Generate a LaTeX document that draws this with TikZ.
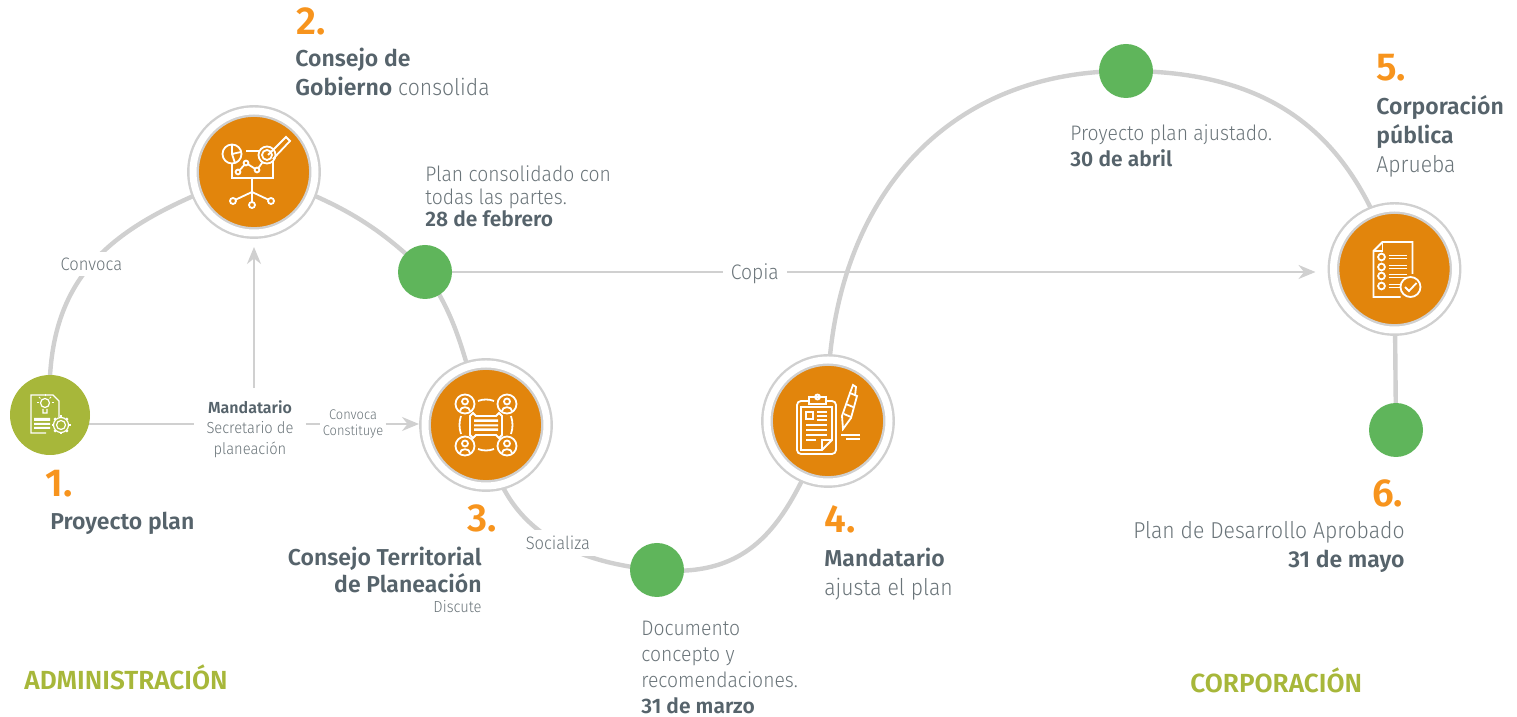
\documentclass[tikz,border=0pt]{standalone}
\usepackage{xcolor}
\usepackage{fontspec}
\setmainfont{Fira Sans Light}[FakeStretch=0.92,BoldFont={Fira Sans SemiBold},BoldFeatures={FakeStretch=1}]
\usepackage{tikz}
\usetikzlibrary{arrows.meta}
\usetikzlibrary{backgrounds}
\definecolor{diskorange}{HTML}{E2850C}
\definecolor{numorange}{HTML}{F7941D}
\definecolor{dotgreen}{HTML}{5FB55B}
\definecolor{olive}{HTML}{A7B73A}
\definecolor{linegray}{HTML}{D0D0D0}
\definecolor{headgray}{HTML}{56636B}
\definecolor{bodygray}{HTML}{6A7479}

\begin{document}
\begin{tikzpicture}[x=0.5pt,y=0.5pt]
    \tikzstyle{step disk}=[circle,inner sep=0pt,outer sep=0pt,minimum size=61pt,fill=diskorange,draw=linegray,line width=1.2pt,double=white,double distance=3.5pt]
    \tikzstyle{start disk}=[circle,inner sep=0pt,minimum size=40pt,fill=olive]
    \tikzstyle{date dot}=[circle,inner sep=0pt,minimum size=27pt,fill=dotgreen]
    \tikzstyle{ring line}=[line width=2.2pt,color=linegray]
    \tikzstyle{thin line}=[line width=1.1pt,color=linegray]
    \tikzstyle{thin vector}=[-{Stealth[length=8.5pt,width=7pt]},line width=1.1pt,color=linegray]
    \tikzstyle{number text}=[anchor=base west,inner sep=0pt,text=numorange,font=\fontsize{19.5}{19.5}\selectfont\bfseries]
    \tikzstyle{head text}=[inner sep=0pt,text=headgray,font=\fontsize{11.5}{14.4}\selectfont]
    \tikzstyle{body text}=[inner sep=0pt,text=bodygray,font=\fontsize{10.5}{13}\selectfont]
    \tikzstyle{edge text}=[fill=white,inner sep=3pt,text=bodygray,font=\fontsize{9}{10}\selectfont]
    \tikzstyle{side text}=[anchor=base west,inner sep=0pt,text=olive,font=\fontsize{13.1}{14}\selectfont\bfseries]
    \tikzstyle{icon}=[line width=0.9pt,color=white]

    \useasboundingbox (0,0) rectangle (1517,717);

    % Steps and date dots
    \node[style=start disk] (stepOne) at (50,302) {};
    \node[style=step disk] (stepTwo) at (254,545) {};
    \node[style=step disk] (stepThree) at (486,292) {};
    \node[style=step disk] (stepFour) at (828,296) {};
    \node[style=step disk] (stepFive) at (1394.5,448) {};
    \node[style=date dot] (planDot) at (425,445) {};
    \node[style=date dot] (conceptDot) at (657,147) {};
    \node[style=date dot] (adjustDot) at (1126,646) {};
    \node[style=date dot] (finalDot) at (1396,287) {};

    % Middle labels
    \node[align=center,inner sep=6pt,text=bodygray,font=\fontsize{8}{10.2}\selectfont] (secretaryText) at (250,288) {{\color{headgray}\bfseries Mandatario}\\Secretario de\\planeación};
    \node[align=center,inner sep=1pt,text=bodygray,font=\fontsize{7}{8}\selectfont] (convocaText) at (353,293) {Convoca\\Constituye};

    % Ring lines
    \begin{scope}[on background layer]
    \draw[style=ring line] (stepOne.center) to[out=93,in=200,looseness=1.18] node[style=edge text,pos=0.47] (convokeText) {Convoca} (stepTwo.center);
    \draw[style=ring line] (stepTwo.center) to[out=-20,in=135,looseness=1] (planDot.center);
    \draw[style=ring line] (planDot.center) to[out=-55,in=110,looseness=1] (stepThree.center);
    \draw[style=ring line] (stepThree.center) to[out=-85,in=175,looseness=1.1] node[style=edge text,pos=0.6] (shareText) {Socializa} (conceptDot.center);
    \draw[style=ring line] (conceptDot.center) to[out=-5,in=-112,looseness=1.15] (stepFour.center);
    \draw[style=ring line] (stepFour.center) to[out=92,in=180,looseness=1.1] (adjustDot.center);
    \draw[style=ring line] (adjustDot.center) to[out=0,in=107,looseness=1.1] (stepFive.center);
    \draw[style=ring line] (stepFive.center) -- (finalDot.center);

    % Thin lines and arrows
    \draw[style=thin line] (stepOne.center |- convocaText) -- (secretaryText.west |- convocaText);
    \draw[style=thin vector,shorten >=7pt] (secretaryText.north -| stepTwo.center) -- (stepTwo.south);
    \draw[style=thin line] (secretaryText.east |- convocaText) -- (convocaText.west);
    \draw[style=thin vector,shorten >=3pt] (convocaText.east) -- (stepThree.west |- convocaText);
    \draw[style=thin vector,shorten >=9pt] (planDot.center) -- node[style=edge text,font=\fontsize{10.5}{12}\selectfont,inner sep=4pt,pos=0.363,yshift=-1pt] (copyText) {Copia} (stepFive.west |- planDot.center);
    \end{scope}

    % Step 1 icon
    \begin{scope}[shift={(stepOne)},style=icon]
    \draw[line width=0.6pt] (-4,-18) -- (-19,-18) -- (-19,20) -- (3,20) -- (9,14) -- (9,-2);
    \draw[line width=0.6pt] (-5,12) circle (4.5) (-7,6) -- (-7,2) -- (-3,2) -- (-3,6);
    \foreach \a in {0,45,...,180} {\draw[line width=0.5pt] (-5,12) ++(\a:6.5) -- ++(\a:2);}
    \fill (-16,-6) rectangle (0,-3) (-16,-10) rectangle (0,-8) (-16,-14) rectangle (0,-12);
    \draw[line width=0.6pt] (11,-10) circle (4.5) circle (7.5);
    \foreach \a in {0,45,...,315} {\draw[line width=1.1pt] (11,-10) ++(\a:7.5) -- ++(\a:2);}
    \end{scope}

    % Step 2 icon
    \begin{scope}[shift={(stepTwo)},style=icon]
    \draw (-22,18) -- (-22,-6) -- (19,-6) -- (19,21) -- (-8,21);
    \draw[fill=diskorange] (-22,18) circle (9.5);
    \draw (-22,18) -- (-22,27.5) (-22,18) -- (-13,20) (-22,18) -- (-19,9);
    \draw (-16,0) -- (-8,9) -- (3,2) -- (13,16);
    \foreach \p in {(-16,0),(-8,9),(3,2)} {\draw[fill=diskorange] \p circle (2.4);}
    \draw[fill=diskorange] (13,17) circle (8.5) circle (5);
    \draw (14,17) -- (32,35) -- (36,31) -- (19,13);
    \draw (-2,-6) -- (-2,-33) (-2,-20) -- (-19,-28) (-2,-20) -- (15,-28);
    \foreach \p in {(-21,-29),(17,-29),(-2,-33)} {\draw[fill=diskorange] \p circle (3);}
    \end{scope}

    % Step 3 icon
    \begin{scope}[shift={(stepThree)},style=icon]
    \foreach \u/\v in {-21/21,21/21,-21/-21,21/-21} {
        \begin{scope}[shift={(\u,\v)}]
        \draw (0,0) circle (9.5) (0,2.5) circle (3);
        \draw (-5,-7) .. controls (-5,-2) and (5,-2) .. (5,-7);
        \end{scope}
    }
    \draw (-8,24) .. controls (-3,26) and (3,26) .. (8,24);
    \draw (-8,-24) .. controls (-3,-26) and (3,-26) .. (8,-24);
    \draw (-25,9) .. controls (-27,3) and (-27,-3) .. (-25,-9);
    \draw (25,9) .. controls (27,3) and (27,-3) .. (25,-9);
    \draw (-16,9) -- (-13,12) -- (-10,9) -- (10,9) -- (13,12) -- (16,9) -- (16,-10) -- (13,-13) -- (10,-10) -- (-10,-10) -- (-13,-13) -- (-16,-10) -- cycle;
    \fill (-12,3) rectangle (12,5.5) (-12,-1.5) rectangle (12,0.5) (-12,-6) rectangle (12,-3.5);
    \end{scope}

    % Step 4 icon
    \begin{scope}[shift={(stepFour)},style=icon]
    \draw[rounded corners=2pt] (-31,20) rectangle (8,-33);
    \draw (-27,14) -- (-27,-29) -- (-6,-29) -- (4,-19) -- (4,14) -- cycle;
    \draw (-6,-29) -- (-6,-19) -- (4,-19);
    \draw[fill=diskorange] (-19,17) rectangle (-2,24);
    \draw (-10.5,24) circle (2.5);
    \draw (-22,9) rectangle (-15,2);
    \draw (-11,9) -- (-1,9) (-11,5) -- (-1,5) (-11,1) -- (-1,1) (-22,-4) -- (-1,-4) (-22,-9) -- (-1,-9) (-22,-14) -- (-1,-14) (-22,-19) -- (-12,-19);
    \draw (15,-8) -- (14,5) -- (22,28) -- (29,25) -- (23,3) -- cycle;
    \draw (22,28) -- (25,36) -- (28,34) -- (27,25);
    \draw (16,7) -- (23,4) (18,17) -- (25,14);
    \draw (13,-14) -- (32,-14);
    \draw (18,-18) -- (32,-18);
    \end{scope}

    % Step 5 icon
    \begin{scope}[shift={(stepFive)},style=icon]
    \draw (6,-28) -- (-21,-28) -- (-21,18) -- (-12,27) -- (18,27) -- (18,-5);
    \draw (-21,18) -- (-12,18) -- (-12,27);
    \foreach \y in {12,2,-7,-17} {
        \draw (-13,\y) circle (3.4);
        \draw (-6,\y+1.5) -- (12,\y+1.5) (-6,\y-1.5) -- (12,\y-1.5);
    }
    \draw[fill=diskorange] (16,-18) circle (10);
    \draw (10.5,-18) -- (14.5,-22) -- (22,-14);
    \end{scope}

    % Numbers and titles
    \node[style=number text] (numOne) at (45,220) {1.};
    \node[style=head text,anchor=base west] (titleOne) at (50,187) {\bfseries Proyecto plan};

    \node[style=number text] (numTwo) at (296,682) {2.};
    \node[style=head text,anchor=north west,align=left] (titleTwo) at (295,669) {\bfseries Consejo de\\{\bfseries Gobierno} {\color{bodygray}consolida}};

    \node[style=number text] (numThree) at (467,185) {3.};
    \node[style=head text,anchor=north east,align=right,font=\fontsize{11.5}{13.5}\selectfont] (titleThree) at (482,170) {\bfseries Consejo Territorial\\\bfseries de Planeación};
    \node[style=body text,anchor=base east,font=\fontsize{8}{9}\selectfont] (noteThree) at (482,104) {Discute};

    \node[style=number text] (numFour) at (824,184) {4.};
    \node[style=head text,anchor=north west,align=left] (titleFour) at (824,169) {\bfseries Mandatario\\{\color{bodygray}ajusta el plan}};

    \node[style=number text] (numFive) at (1376,636) {5.};
    \node[style=head text,anchor=north west,align=left] (titleFive) at (1376,622) {\bfseries Corporación\\\bfseries pública\\{\color{bodygray}Aprueba}};

    \node[style=number text] (numSix) at (1372,210) {6.};
    \node[style=head text,anchor=north east,align=right] (titleSix) at (1405,196) {{\color{bodygray}Plan de Desarrollo Aprobado}\\\bfseries 31 de mayo};

    % Date texts
    \node[style=body text,anchor=north west,align=left,font=\fontsize{10.5}{11.4}\selectfont] (datePlan) at (425,552) {Plan consolidado con\\todas las partes.\\{\bfseries\color{headgray}28 de febrero}};
    \node[style=body text,anchor=north west,align=left] (dateAdjust) at (1070,593) {Proyecto plan ajustado.\\{\bfseries\color{headgray}30 de abril}};
    \node[style=body text,anchor=north west,align=left] (dateConcept) at (641,96) {Documento\\concepto y\\recomendaciones.\\{\bfseries\color{headgray}31 de marzo}};

    % Sides
    \node[style=side text] (sideLeft) at (24,27) {ADMINISTRACIÓN};
    \node[style=side text] (sideRight) at (1190,24) {CORPORACIÓN};
\end{tikzpicture}
\end{document}
